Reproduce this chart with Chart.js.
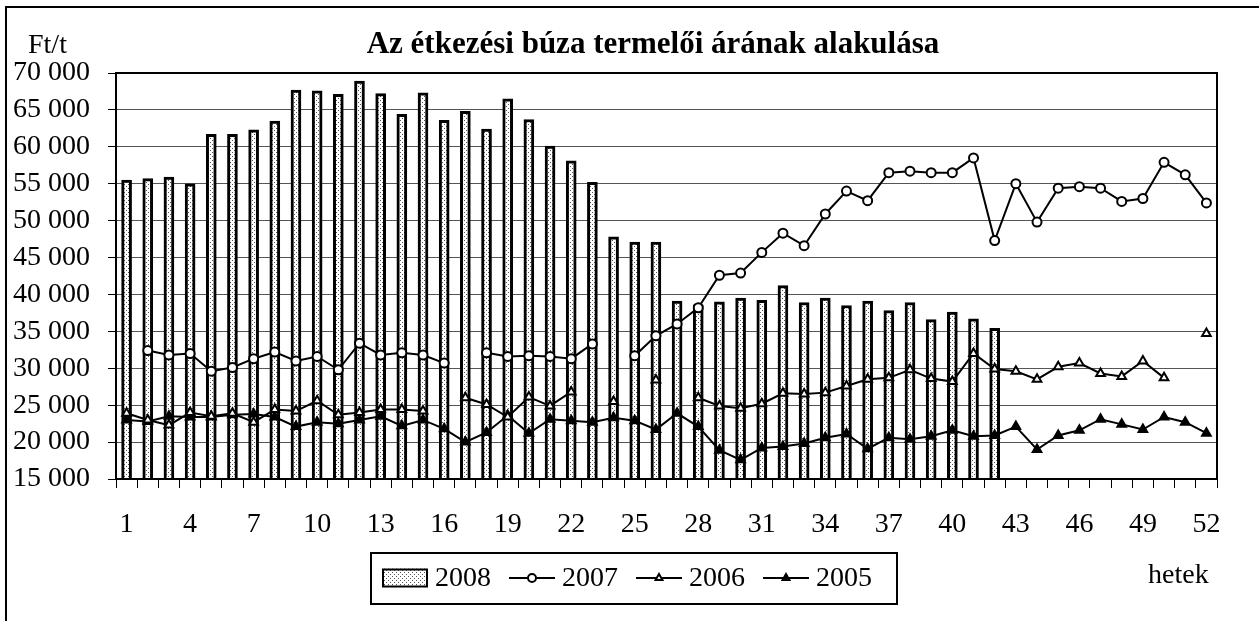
<!DOCTYPE html>
<html>
<head>
<meta charset="utf-8">
<script src="https://cdn.jsdelivr.net/npm/chart.js@4/dist/chart.umd.min.js"></script>
<style>
  html, body { margin: 0; padding: 0; background: #fff; }
  #wrap { width: 1259px; height: 621px; }
</style>
</head>
<body>
<div id="wrap"><canvas id="c" width="1259" height="621"></canvas></div>
<script>
const TITLE = 'Az étkezési búza termelői árának alakulása';
const Y_UNIT = 'Ft/t';
const X_UNIT = 'hetek';

const weeks = ['1','2','3','4','5','6','7','8','9','10','11','12','13','14','15','16','17','18','19','20',
  '21','22','23','24','25','26','27','28','29','30','31','32','33','34','35','36','37','38','39','40',
  '41','42','43','44','45','46','47','48','49','50','51','52'];

const seriesNames = ['2008', '2007', '2006', '2005'];

const y2008 = [55500, 55700, 55900, 55000, 61700, 61700, 62300, 63500, 67700, 67600,
  67100, 68900, 67200, 64400, 67300, 63600, 64800, 62400, 66500, 63700,
  60100, 58100, 55200, 47800, 47100, 47100, 39100, 38600, 39000, 39500,
  39200, 41200, 38900, 39500, 38500, 39100, 37800, 38900, 36600, 37600,
  36700, 35400, null, null, null, null, null, null, null, null, null, null];

const y2007 = [null, 32400, 31800, 32000, 29600, 30100, 31300, 32200, 31000, 31600,
  29800, 33400, 31800, 32100, 31800, 30700, null, 32100, 31600, 31700,
  31600, 31300, 33300, null, 31700, 34400, 36000, 38200, 42600, 42900,
  45700, 48300, 46600, 50900, 54000, 52700, 56500, 56700, 56500, 56500,
  58500, 47300, 55000, 49800, 54400, 54600, 54400, 52600, 53000, 57900,
  56200, 52400];

const y2006 = [23900, 23000, 22300, 24000, 23500, 23900, 22700, 24400, 24200, 25600,
  23700, 24000, 24400, 24400, 24200, null, 26000, 25100, 23400, 26100,
  24900, 26800, null, 25500, null, 28400, null, 26000, 24900, 24600,
  25200, 26600, 26500, 26700, 27600, 28500, 28700, 29800, 28600, 28200,
  32000, 29900, 29600, 28500, 30200, 30700, 29300, 28900, 31000, 28700,
  null, 34700];

const y2005 = [23000, 22800, 23500, 23400, 23400, 23700, 23800, 23400, 22100, 22700,
  22500, 23000, 23500, 22200, 23000, 21800, 20000, 21300, 23600, 21200,
  23100, 22900, 22700, 23300, 22900, 21700, 23900, 22100, 18900, 17600,
  19200, 19400, 19800, 20600, 21100, 19100, 20600, 20400, 20800, 21600,
  20800, 20900, 22100, 19000, 20900, 21600, 23100, 22400, 21700, 23400,
  22700, 21200];

const FONT = '"Liberation Serif", "Times New Roman", serif';

// dotted fill pattern for the 2008 bars
function makePattern() {
  const p = document.createElement('canvas');
  p.width = 4; p.height = 4;
  const g = p.getContext('2d');
  g.fillStyle = '#ffffff';
  g.fillRect(0, 0, 4, 4);
  g.fillStyle = '#555555';
  g.fillRect(0, 0, 1, 1);
  g.fillRect(2, 2, 1, 1);
  return g.createPattern(p, 'repeat');
}
const dots = makePattern();

function fmt(v) {
  return String(v).replace(/\B(?=(\d{3})+(?!\d))/g, ' ');
}

function drawMarker(ctx, style, fill, x, y, r) {
  ctx.save();
  ctx.lineWidth = 2;
  ctx.strokeStyle = '#000';
  ctx.fillStyle = fill;
  ctx.beginPath();
  if (style === 'circle') {
    ctx.arc(x, y, r, 0, Math.PI * 2);
  } else {
    ctx.moveTo(x, y - r);
    ctx.lineTo(x + r * 0.866, y + r * 0.5);
    ctx.lineTo(x - r * 0.866, y + r * 0.5);
    ctx.closePath();
  }
  ctx.fill();
  ctx.stroke();
  ctx.restore();
}

const decor = {
  id: 'decor',
  afterDraw(chart) {
    const ctx = chart.ctx;
    const a = chart.chartArea;
    ctx.save();
    // outer frame (left and top edges visible)
    ctx.strokeStyle = '#000';
    ctx.lineWidth = 2;
    ctx.beginPath();
    ctx.moveTo(6, 640);
    ctx.lineTo(6, 7);
    ctx.lineTo(1270, 7);
    ctx.stroke();
    // plot frame
    ctx.strokeRect(a.left, a.top, a.right - a.left, a.bottom - a.top);

    // title and axis units
    ctx.fillStyle = '#000';
    ctx.textBaseline = 'alphabetic';
    ctx.font = 'bold 31px ' + FONT;
    ctx.textAlign = 'center';
    ctx.fillText(TITLE, 653, 53);
    ctx.font = '28px ' + FONT;
    ctx.textAlign = 'left';
    ctx.fillText(Y_UNIT, 28, 53);
    ctx.fillText(X_UNIT, 1148, 583);

    // legend
    const L = { x1: 371, y1: 553, x2: 897, y2: 604 };
    ctx.lineWidth = 2;
    ctx.strokeStyle = '#000';
    ctx.strokeRect(L.x1, L.y1, L.x2 - L.x1, L.y2 - L.y1);
    const cy = 578;
    let x = 382;
    const order = [3, 0, 1, 2];
    const ds = chart.data.datasets;
    ctx.font = '28px ' + FONT;
    ctx.textBaseline = 'middle';
    order.forEach((idx) => {
      const d = ds[idx];
      if (d.type === 'bar') {
        ctx.fillStyle = d.backgroundColor;
        ctx.fillRect(x, cy - 9.5, 46, 19);
        ctx.lineWidth = 2;
        ctx.strokeStyle = '#000';
        ctx.strokeRect(x + 1, cy - 8.5, 44, 17);
      } else {
        ctx.lineWidth = 2;
        ctx.strokeStyle = '#000';
        ctx.beginPath();
        ctx.moveTo(x, cy);
        ctx.lineTo(x + 46, cy);
        ctx.stroke();
        drawMarker(ctx, d.pointStyle, d.pointBackgroundColor, x + 23, cy, 4);
      }
      ctx.fillStyle = '#000';
      ctx.textAlign = 'left';
      ctx.fillText(d.label, x + 53, cy + 1);
      x = x + 53 + ctx.measureText(d.label).width + 18;
    });
    ctx.restore();
  }
};

const lineBase = {
  type: 'line',
  borderColor: '#000',
  borderWidth: 2,
  pointBorderColor: '#000',
  pointBorderWidth: 2,
  pointRadius: 5,
  spanGaps: false,
  tension: 0,
  order: 1
};

new Chart(document.getElementById('c'), {
  data: {
    labels: weeks,
    datasets: [
      Object.assign({}, lineBase, { label: seriesNames[1], data: y2007, pointStyle: 'circle', pointBackgroundColor: '#fff', pointRadius: 4.5 }),
      Object.assign({}, lineBase, { label: seriesNames[2], data: y2006, pointStyle: 'triangle', pointBackgroundColor: '#fff' }),
      Object.assign({}, lineBase, { label: seriesNames[3], data: y2005, pointStyle: 'triangle', pointBackgroundColor: '#000' }),
      {
        type: 'bar',
        label: seriesNames[0],
        data: y2008,
        backgroundColor: dots,
        borderColor: '#000',
        borderWidth: 3,
        borderSkipped: false,
        barThickness: 10,
        order: 10
      }
    ]
  },
  options: {
    responsive: false,
    animation: false,
    events: [],
    layout: { padding: { top: 73, right: 42, left: 0, bottom: 0 } },
    plugins: {
      legend: { display: false },
      title: { display: false },
      tooltip: { enabled: false }
    },
    scales: {
      x: {
        type: 'category',
        offset: true,
        grid: { offset: true, drawOnChartArea: false, drawTicks: true, tickLength: 9, color: '#000', lineWidth: 1 },
        border: { display: true, color: '#000', width: 2 },
        ticks: {
          autoSkip: false,
          maxRotation: 0,
          minRotation: 0,
          padding: 20,
          color: '#000',
          font: { family: FONT, size: 28 },
          callback: function (v, i) { return i % 3 === 0 ? this.getLabelForValue(v) : ''; }
        },
        afterFit: (s) => { s.height = 142; }
      },
      y: {
        min: 15000,
        max: 70000,
        grid: { color: '#555', lineWidth: 1, tickLength: 8, tickColor: '#000' },
        border: { display: true, color: '#000', width: 2 },
        ticks: {
          stepSize: 5000,
          padding: 18,
          color: '#000',
          font: { family: FONT, size: 28 },
          callback: (v) => fmt(v)
        },
        afterFit: (s) => { s.width = 116; }
      }
    }
  },
  plugins: [decor]
});
</script>
</body>
</html>
